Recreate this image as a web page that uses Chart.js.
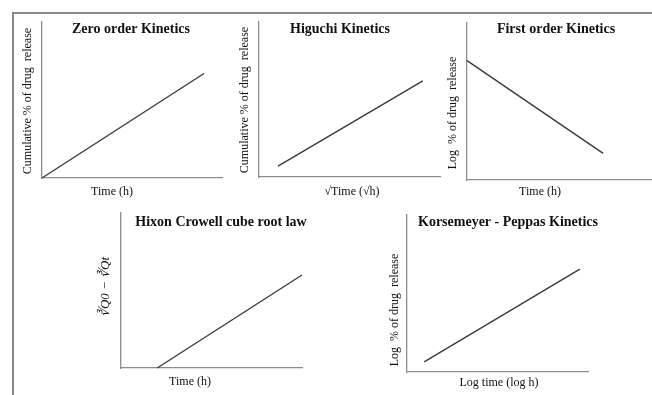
<!DOCTYPE html>
<html>
<head>
<meta charset="utf-8">
<script src="https://cdn.jsdelivr.net/npm/chart.js@4/dist/chart.umd.min.js"></script>
<style>
  html, body { margin: 0; padding: 0; background: #ffffff; }
  #wrap { position: relative; width: 652px; height: 395px; overflow: hidden; background: #fff; }
  #frame { position: absolute; left: 12px; top: 12px; width: 700px; height: 450px; border-left: 2px solid #8a8a8a; border-top: 2px solid #8a8a8a; box-sizing: border-box; }
  canvas { position: absolute; left: 0; top: 0; }
</style>
</head>
<body>
<div id="wrap">
  <div id="frame"></div>
  <canvas id="c1" width="652" height="395"></canvas>
  <canvas id="c2" width="652" height="395"></canvas>
  <canvas id="c3" width="652" height="395"></canvas>
  <canvas id="c4" width="652" height="395"></canvas>
  <canvas id="c5" width="652" height="395"></canvas>
</div>
<script>
// ---- Data (schematic straight lines, axis units 0..10) ----
const panelTitles = ["Zero order Kinetics", "Higuchi Kinetics", "First order Kinetics", "Hixon Crowell cube root law", "Korsemeyer - Peppas Kinetics"];
const xAxisLabels = ["Time (h)", "\u221ATime (\u221Ah)", "Time (h)", "Time (h)", "Log time (log h)"];
const yAxisLabels = ["Cumulative % of drug  release", "Cumulative % of drug  release", "Log  % of drug  release", "\u221BQ0 \u2212 \u221BQt", "Log  % of drug  release"];

const zeroOrderX = [0, 9.0];
const zeroOrderY = [0, 6.7];
const higuchiX = [1.05, 9.05];
const higuchiY = [0.7, 6.2];
const firstOrderX = [0, 7.4];
const firstOrderY = [7.6, 1.7];
const hixonX = [2.0, 10];
const hixonY = [0, 6.0];
const peppasX = [0.95, 9.55];
const peppasY = [0.65, 6.55];

// ---- layout (chart areas and text placement) ----
const W = 652, H = 395;
const layouts = [
  { area: [42, 22, 222, 178], title: [131, 29], xl: [112, 192], yl: [28, 101], yItalic: false },
  { area: [259, 22, 440, 177], title: [340, 29], xl: [352, 192], yl: [245, 100], yItalic: false },
  { area: [467, 23, 651, 180], title: [556, 29], xl: [540, 192], yl: [453, 113], yItalic: false },
  { area: [121, 213, 302, 368], title: [221, 222], xl: [190, 382], yl: [106, 287], yItalic: true },
  { area: [407, 215, 588, 372], title: [508, 222], xl: [499, 383], yl: [395, 310], yItalic: false }
];
const seriesX = [zeroOrderX, higuchiX, firstOrderX, hixonX, peppasX];
const seriesY = [zeroOrderY, higuchiY, firstOrderY, hixonY, peppasY];

const panelText = {
  id: 'panelText',
  afterDraw(chart, args, opts) {
    const ctx = chart.ctx;
    ctx.save();
    ctx.fillStyle = '#111';
    ctx.textAlign = 'center';
    ctx.textBaseline = 'middle';
    ctx.font = 'bold 14px "Liberation Serif", "Times New Roman", serif';
    ctx.fillText(opts.title, opts.titlePos[0], opts.titlePos[1]);
    ctx.font = '12px "Liberation Serif", "Times New Roman", serif';
    ctx.fillText(opts.xLabel, opts.xPos[0], opts.xPos[1]);
    ctx.translate(opts.yPos[0], opts.yPos[1]);
    ctx.rotate(-Math.PI / 2);
    ctx.font = (opts.yItalic ? 'italic 13px' : '12px') + ' "Liberation Serif", "Times New Roman", serif';
    ctx.fillText(opts.yLabel, 0, 0);
    ctx.restore();
  }
};

function axis() {
  return {
    type: 'linear', min: 0, max: 10,
    grid: { display: false, drawTicks: false },
    ticks: { display: false },
    border: { display: true, color: '#8c8c8c', width: 1.3 },
    title: { display: false }
  };
}

layouts.forEach((L, i) => {
  const [l, t, r, b] = L.area;
  const pts = seriesX[i].map((x, k) => ({ x: x, y: seriesY[i][k] }));
  new Chart(document.getElementById('c' + (i + 1)), {
    type: 'line',
    data: { datasets: [{ data: pts, borderColor: '#3a3a3a', borderWidth: 1.4, pointRadius: 0, tension: 0, fill: false, clip: false }] },
    options: {
      responsive: false, animation: false, devicePixelRatio: 1,
      layout: { padding: { left: l, top: t, right: W - r, bottom: H - b } },
      scales: { x: axis(), y: axis() },
      plugins: {
        legend: { display: false }, tooltip: { enabled: false }, title: { display: false },
        panelText: { title: panelTitles[i], titlePos: L.title, xLabel: xAxisLabels[i], xPos: L.xl, yLabel: yAxisLabels[i], yPos: L.yl, yItalic: L.yItalic }
      }
    },
    plugins: [panelText]
  });
});
</script>
</body>
</html>
